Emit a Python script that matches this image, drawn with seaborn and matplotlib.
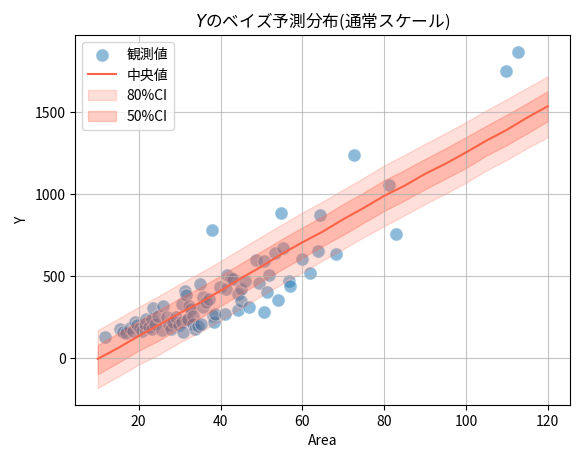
import pandas as pd
import matplotlib
matplotlib.use('Agg')
import matplotlib.pyplot as plt
import seaborn as sns

# observed data
area = [11.7, 15.5, 16.2, 16.9, 17.9, 18.5, 19.1, 19.5, 20.3, 20.7,
        21.5, 21.9, 22.5, 23.2, 23.2, 23.4, 24.0, 24.8, 25.6, 26.0,
        26.8, 27.5, 28.0, 28.4, 29.2, 29.8, 30.5, 30.5, 30.9, 31.3,
        31.5, 31.7, 32.1, 32.3, 32.9, 33.3, 33.3, 33.7, 34.5, 34.9,
        35.3, 35.7, 35.7, 36.5, 37.2, 37.8, 38.2, 38.3, 38.6, 39.8,
        41.0, 41.4, 41.6, 42.5, 43.0, 44.3, 44.3, 45.1, 45.1, 46.1,
        46.9, 48.7, 49.4, 50.7, 50.7, 51.4, 51.9, 53.2, 54.0, 54.8,
        55.2, 56.8, 57.0, 59.8, 61.9, 63.8, 64.4, 68.2, 72.6, 81.3,
        82.8, 109.8, 112.7]
y_obs = [130, 175, 160, 150, 185, 165, 220, 200, 185, 165,
         205, 238, 190, 240, 180, 305, 210, 255, 170, 315,
         248, 200, 180, 218, 248, 200, 218, 330, 160, 410,
         385, 230, 240, 315, 300, 258, 210, 180, 197, 451,
         207, 309, 370, 343, 360, 780, 258, 218, 268, 435,
         268, 421, 506, 490, 482, 390, 295, 421, 350, 472,
         309, 597, 460, 594, 279, 405, 506, 639, 356, 884,
         669, 472, 440, 604, 518, 652, 872, 634, 1238, 1055,
         756, 1752, 1870]

# posterior predictive summary
x_new = [10, 15, 20, 25, 30, 35, 40, 45, 50, 55, 60, 65,
         70, 75, 80, 85, 90, 95, 100, 105, 110, 115, 120]
median = [-5, 62, 135, 203, 274, 338, 411, 487, 558, 636, 706, 772,
          847, 916, 990, 1052, 1124, 1186, 1255, 1327, 1393, 1468, 1537]
lo50 = [-98, -28, 45, 108, 184, 246, 318, 392, 468, 540, 612, 684,
        752, 826, 898, 962, 1030, 1095, 1160, 1236, 1300, 1372, 1446]
hi50 = [79, 152, 226, 292, 365, 430, 503, 578, 652, 726, 797, 865,
        940, 1010, 1085, 1148, 1215, 1280, 1348, 1418, 1486, 1556, 1629]
lo80 = [-183, -112, -40, 22, 95, 160, 228, 305, 380, 452, 522, 596,
        665, 738, 805, 872, 940, 1003, 1070, 1145, 1210, 1282, 1348]
hi80 = [171, 240, 312, 380, 452, 520, 592, 668, 742, 815, 888, 956,
        1028, 1100, 1175, 1240, 1308, 1372, 1440, 1512, 1580, 1650, 1720]

df_obs = pd.DataFrame({'Area': area, 'Y': y_obs})
df_pred = pd.DataFrame({'Area': x_new, 'median': median,
                        'lo50': lo50, 'hi50': hi50,
                        'lo80': lo80, 'hi80': hi80})

plt.rcParams['font.family'] = ['Noto Sans CJK JP', 'DejaVu Sans']
plt.rcParams['axes.unicode_minus'] = False

fig, ax = plt.subplots(figsize=(5.79, 4.58), dpi=100)
fig.subplots_adjust(left=0.13, right=0.985, top=0.924, bottom=0.116)

sns.scatterplot(data=df_obs, x='Area', y='Y', s=90, alpha=0.5,
                color='C0', label='観測値', ax=ax)
sns.lineplot(data=df_pred, x='Area', y='median', color='tomato',
             label='中央値', ax=ax)
ax.fill_between(df_pred['Area'], df_pred['lo80'], df_pred['hi80'],
                color='tomato', alpha=0.2, label='80%CI')
ax.fill_between(df_pred['Area'], df_pred['lo50'], df_pred['hi50'],
                color='tomato', alpha=0.3, label='50%CI')

ax.set_title('$Y$のベイズ予測分布(通常スケール)', fontsize=12)
ax.set_xlabel('Area')
ax.set_ylabel('Y')
ax.grid(True, alpha=0.75)
ax.legend(loc='upper left')

fig.savefig('out.png', dpi=100)
